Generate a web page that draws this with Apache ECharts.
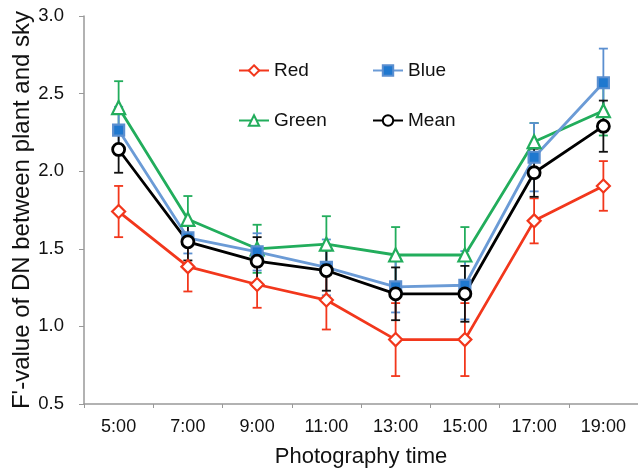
<!DOCTYPE html>
<html>
<head>
    <meta charset="utf-8">
    <title>F'-value chart</title>
    <script src="https://cdn.jsdelivr.net/npm/echarts@6/dist/echarts.min.js"></script>
    <style>
        html, body { margin: 0; padding: 0; background: #fff; }
        #container { width: 638px; height: 471px; }
    </style>
</head>
<body>
<div id="container"></div>
<script type="text/javascript">
    // photography times
    var times = ['5:00', '7:00', '9:00', '11:00', '13:00', '15:00', '17:00', '19:00'];
    var yTicks = [0.5, 1.0, 1.5, 2.0, 2.5, 3.0];

    // means and error bar half-lengths
    var red = [1.74, 1.385, 1.27, 1.17, 0.915, 0.915, 1.68, 1.905];
    var redErr = [0.165, 0.16, 0.15, 0.19, 0.235, 0.235, 0.145, 0.16];
    var green = [2.41, 1.69, 1.50, 1.53, 1.46, 1.46, 2.19, 2.39];
    var greenErr = [0.17, 0.15, 0.155, 0.18, 0.18, 0.18, 0.12, 0.16];
    var blue = [2.265, 1.57, 1.48, 1.38, 1.255, 1.265, 2.09, 2.57];
    var blueErr = [0.15, 0.1, 0.12, 0.18, 0.165, 0.22, 0.22, 0.22];
    var mean = [2.14, 1.545, 1.42, 1.36, 1.21, 1.21, 1.99, 2.29];
    var meanErr = [0.15, 0.12, 0.155, 0.13, 0.17, 0.18, 0.155, 0.165];

    var font = "'Liberation Sans', Arial, sans-serif";

    var mychart = echarts.init(document.getElementById('container'));

    // error bars as custom series
    function errbars(vals, errs, color) {
        var data = [];
        for (var i = 0; i < vals.length; i++) {
            data.push([i, vals[i] - errs[i], vals[i] + errs[i]]);
        }
        return {
            type: 'custom',
            data: data,
            encode: {x: 0, y: [1, 2]},
            silent: true,
            renderItem: function (params, api) {
                var lo = api.coord([api.value(0), api.value(1)]);
                var hi = api.coord([api.value(0), api.value(2)]);
                var w = 4.5;
                var st = {stroke: color, lineWidth: 1.8};
                return {
                    type: 'group',
                    children: [
                        {type: 'line', shape: {x1: lo[0], y1: lo[1], x2: hi[0], y2: hi[1]}, style: st},
                        {type: 'line', shape: {x1: lo[0] - w, y1: lo[1], x2: lo[0] + w, y2: lo[1]}, style: st},
                        {type: 'line', shape: {x1: hi[0] - w, y1: hi[1], x2: hi[0] + w, y2: hi[1]}, style: st}
                    ]
                };
            }
        };
    }

    function lineSeries(name, vals, color, symbol, size, fill, lineColor, bw) {
        return {
            name: name,
            type: 'line',
            data: vals,
            symbol: symbol,
            symbolSize: size,
            showAllSymbol: true,
            lineStyle: {color: lineColor || color, width: 2.8},
            itemStyle: {color: fill, borderColor: color, borderWidth: bw || 2.2},
            emphasis: {disabled: true}
        };
    }

    function oneLegend(name, left, top) {
        return {
            data: [name],
            left: left,
            top: top,
            padding: 0,
            itemWidth: 30,
            itemHeight: 13,
            textStyle: {fontFamily: font, fontSize: 19, color: '#111'}
        };
    }

    var options = {
        animation: false,
        grid: {left: 84, right: 0, top: 16, bottom: 67, containLabel: false, outerBoundsMode: 'none'},
        legend: [
            oneLegend('Red', 238, 61),
            oneLegend('Blue', 372, 61),
            oneLegend('Green', 238, 111),
            oneLegend('Mean', 372, 111)
        ],
        xAxis: [{
            type: 'category',
            data: times,
            boundaryGap: true,
            name: 'Photography time',
            nameLocation: 'middle',
            nameGap: 42,
            nameTextStyle: {fontFamily: font, fontSize: 22, color: '#111'},
            axisLine: {lineStyle: {color: '#999', width: 1.5}},
            axisTick: {show: true, length: 4, alignWithLabel: false, lineStyle: {color: '#999'}},
            axisLabel: {fontFamily: font, fontSize: 18, color: '#111', margin: 14},
            splitLine: {show: false}
        }],
        yAxis: [{
            type: 'value',
            min: yTicks[0],
            max: yTicks[yTicks.length - 1],
            interval: 0.5,
            name: "F'-value of DN between plant and sky",
            nameLocation: 'middle',
            nameGap: 50,
            nameMoveOverlap: false,
            nameTextStyle: {fontFamily: font, fontSize: 24, color: '#111'},
            axisLine: {show: true, lineStyle: {color: '#999', width: 1.5}},
            axisTick: {show: true, length: 5, lineStyle: {color: '#999'}},
            axisLabel: {
                fontFamily: font, fontSize: 18.5, color: '#111', margin: 20,
                formatter: function (v) { return v.toFixed(1); }
            },
            splitLine: {show: false}
        }],
        series: [
            errbars(green, greenErr, '#22ad5c'),
            errbars(blue, blueErr, '#5b8fd0'),
            errbars(red, redErr, '#f2371c'),
            errbars(mean, meanErr, '#111'),
            lineSeries('Green', green, '#22ad5c', 'triangle', 13, '#fff'),
            lineSeries('Blue', blue, '#5b8fd0', 'rect', 11, '#1f78cf', '#6b9bd6'),
            lineSeries('Red', red, '#f2371c', 'diamond', 13, '#fff'),
            lineSeries('Mean', mean, '#000', 'circle', 12, '#fff', null, 2.8)
        ]
    };

    mychart.setOption(options);
</script>
</body>
</html>
